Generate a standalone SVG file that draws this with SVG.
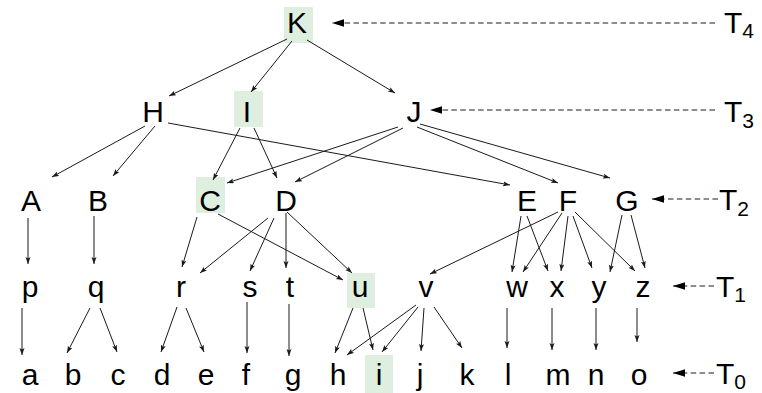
<svg xmlns="http://www.w3.org/2000/svg" width="762" height="393" viewBox="0 0 762 393">
<style>
text{font-family:"Liberation Sans",Arial,sans-serif;font-size:30px;fill:#000;text-anchor:middle}
.t{text-anchor:start}
.sub{font-size:21px}
.hl{fill:#dfefdf}
.e line{stroke:#1a1a1a;stroke-width:1;marker-end:url(#a)}
.d line{stroke:#1a1a1a;stroke-width:1;stroke-dasharray:5.5,3.4;marker-end:url(#b)}
</style>
<defs>
<marker id="a" markerUnits="userSpaceOnUse" markerWidth="8" markerHeight="6" refX="7" refY="2.5" orient="auto">
<path d="M0,0 L7,2.5 L0,5 L1.5,2.5 z" fill="#1a1a1a"/>
</marker>
<marker id="b" markerUnits="userSpaceOnUse" markerWidth="13" markerHeight="9" refX="12" refY="4" orient="auto">
<path d="M0,0.3 L12,4 L0,7.7 z" fill="#000"/>
</marker>
</defs>
<rect width="762" height="393" fill="#fff"/>

<g id="nodes">
<g id="K"><rect class="hl" x="284" y="7" width="29" height="36"/><text x="297" y="33">K</text></g>
<g id="H"><text x="153" y="122">H</text></g>
<g id="I"><rect class="hl" x="234" y="91" width="29" height="36"/><text x="247" y="122">I</text></g>
<g id="J"><text x="414" y="122">J</text></g>
<g id="A"><text x="31" y="211">A</text></g>
<g id="B"><text x="98" y="211">B</text></g>
<g id="C"><rect class="hl" x="196" y="177" width="29" height="36"/><text x="210" y="211">C</text></g>
<g id="D"><text x="286" y="211">D</text></g>
<g id="E"><text x="527" y="211">E</text></g>
<g id="F"><text x="568" y="211">F</text></g>
<g id="G"><text x="627" y="211">G</text></g>
<g id="p"><text x="30" y="297">p</text></g>
<g id="q"><text x="96" y="297">q</text></g>
<g id="r"><text x="181" y="297">r</text></g>
<g id="s"><text x="250" y="297">s</text></g>
<g id="t"><text x="290" y="297">t</text></g>
<g id="u"><rect class="hl" x="347" y="273" width="28" height="35"/><text x="360" y="297">u</text></g>
<g id="v"><text x="426" y="297">v</text></g>
<g id="w"><text x="517" y="297">w</text></g>
<g id="x"><text x="557" y="297">x</text></g>
<g id="y"><text x="599" y="297">y</text></g>
<g id="z"><text x="643" y="297">z</text></g>
<g id="a0"><text x="30" y="385">a</text></g>
<g id="b0"><text x="73" y="385">b</text></g>
<g id="c0"><text x="118" y="385">c</text></g>
<g id="d0"><text x="162" y="385">d</text></g>
<g id="e0"><text x="206" y="385">e</text></g>
<g id="f0"><text x="246" y="385">f</text></g>
<g id="g0"><text x="293" y="385">g</text></g>
<g id="h0"><text x="338" y="385">h</text></g>
<g id="i0"><rect class="hl" x="365" y="355" width="28" height="38"/><text x="379" y="385">i</text></g>
<g id="j0"><text x="420" y="385">j</text></g>
<g id="k0"><text x="467" y="385">k</text></g>
<g id="l0"><text x="508" y="385">l</text></g>
<g id="m0"><text x="558" y="385">m</text></g>
<g id="n0"><text x="596" y="385">n</text></g>
<g id="o0"><text x="639" y="385">o</text></g>
</g>

<g id="levels">
<g id="T4"><text class="t" x="724" y="33">T<tspan class="sub" dy="5">4</tspan></text></g>
<g id="T3"><text class="t" x="724" y="122">T<tspan class="sub" dy="6">3</tspan></text></g>
<g id="T2"><text class="t" x="719" y="210">T<tspan class="sub" dy="6">2</tspan></text></g>
<g id="T1"><text class="t" x="716" y="297">T<tspan class="sub" dy="5">1</tspan></text></g>
<g id="T0"><text class="t" x="716" y="384">T<tspan class="sub" dy="5">0</tspan></text></g>
</g>

<g id="connectors">
<g class="d">
<line x1="715" y1="23" x2="332" y2="23"/>
<line x1="715" y1="110" x2="430" y2="110"/>
<line x1="718" y1="199" x2="652" y2="199"/>
<line x1="714" y1="286" x2="673" y2="286"/>
<line x1="714" y1="373" x2="673" y2="373"/>
</g>
<g class="e">
<line x1="287" y1="39" x2="169" y2="96"/>
<line x1="292" y1="41" x2="251" y2="92"/>
<line x1="307" y1="40" x2="395" y2="93"/>
<line x1="145" y1="126" x2="52" y2="177"/>
<line x1="155" y1="126" x2="113" y2="176"/>
<line x1="168" y1="123" x2="510" y2="185"/>
<line x1="240" y1="128" x2="213" y2="180"/>
<line x1="254" y1="128" x2="277" y2="178"/>
<line x1="398" y1="127" x2="227" y2="183"/>
<line x1="403" y1="128" x2="295" y2="182"/>
<line x1="417" y1="127" x2="558" y2="183"/>
<line x1="420" y1="124" x2="610" y2="178"/>
<line x1="28" y1="218" x2="28" y2="264"/>
<line x1="94" y1="216" x2="94" y2="264"/>
<line x1="197" y1="217" x2="182" y2="267"/>
<line x1="218" y1="214" x2="343" y2="280"/>
<line x1="268" y1="218" x2="200" y2="273"/>
<line x1="274" y1="218" x2="250" y2="271"/>
<line x1="286" y1="213" x2="286" y2="268"/>
<line x1="287" y1="212" x2="352" y2="273"/>
<line x1="521" y1="216" x2="512" y2="272"/>
<line x1="527" y1="216" x2="548" y2="271"/>
<line x1="558" y1="212" x2="430" y2="274"/>
<line x1="562" y1="213" x2="523" y2="272"/>
<line x1="568" y1="216" x2="561" y2="271"/>
<line x1="573" y1="216" x2="592" y2="268"/>
<line x1="575" y1="212" x2="635" y2="271"/>
<line x1="622" y1="215" x2="610" y2="272"/>
<line x1="631" y1="215" x2="645" y2="268"/>
<line x1="22" y1="308" x2="22" y2="355"/>
<line x1="90" y1="308" x2="67" y2="353"/>
<line x1="100" y1="308" x2="117" y2="352"/>
<line x1="177" y1="307" x2="161" y2="352"/>
<line x1="186" y1="308" x2="204" y2="352"/>
<line x1="247" y1="302" x2="247" y2="353"/>
<line x1="289" y1="304" x2="289" y2="356"/>
<line x1="353" y1="308" x2="335" y2="353"/>
<line x1="363" y1="308" x2="373" y2="350"/>
<line x1="416" y1="305" x2="347" y2="355"/>
<line x1="418" y1="307" x2="382" y2="352"/>
<line x1="424" y1="308" x2="421" y2="351"/>
<line x1="434" y1="307" x2="462" y2="348"/>
<line x1="507" y1="308" x2="507" y2="348"/>
<line x1="552" y1="308" x2="552" y2="350"/>
<line x1="596" y1="308" x2="596" y2="350"/>
<line x1="637" y1="308" x2="637" y2="342"/>
</g>
</g>
</svg>
